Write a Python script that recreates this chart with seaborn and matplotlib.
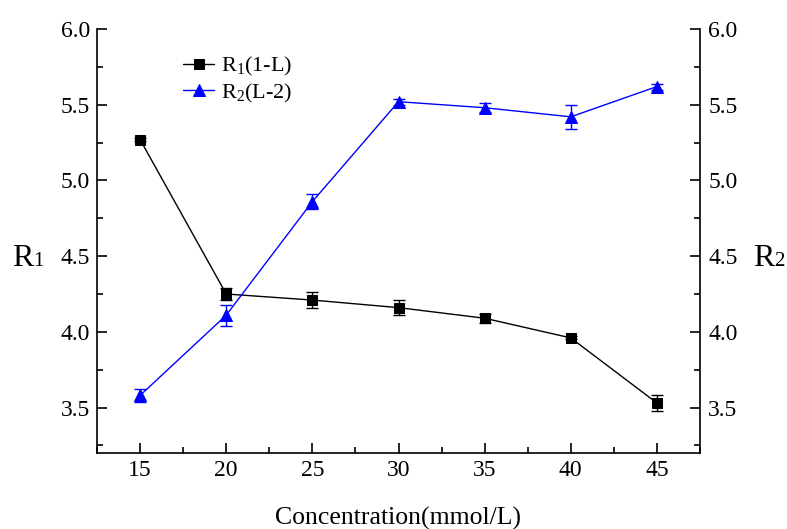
import matplotlib
matplotlib.use("Agg")
import matplotlib.pyplot as plt
import seaborn as sns
import pandas as pd
from matplotlib.ticker import MultipleLocator

conc = [15, 20, 25, 30, 35, 40, 45]
r1 = [5.27, 4.25, 4.21, 4.16, 4.09, 3.96, 3.53]
r1_err = [0.01, 0.04, 0.05, 0.05, 0.03, 0.01, 0.05]
r2 = [3.58, 4.11, 4.86, 5.52, 5.48, 5.42, 5.62]
r2_err = [0.04, 0.07, 0.05, 0.02, 0.03, 0.08, 0.02]
y_ticks = [3.5, 4.0, 4.5, 5.0, 5.5, 6.0]

sns.set_style("ticks")
plt.rcParams['font.family'] = ['Liberation Serif', 'DejaVu Serif']
plt.rcParams['mathtext.fontset'] = 'custom'
plt.rcParams['mathtext.rm'] = 'Liberation Serif'
for k in ["text.color", "axes.labelcolor", "xtick.color", "ytick.color", "axes.edgecolor"]:
    plt.rcParams[k] = "black"

df = pd.DataFrame({"conc": conc, "r1": r1, "r2": r2})

W, H = 787, 529
fig = plt.figure(figsize=(W / 100, H / 100), dpi=100)
ax = fig.add_axes([97 / W, 1 - 453 / H, (700 - 97) / W, (453 - 29) / H])
ax2 = ax.twinx()

sns.lineplot(data=df, x="conc", y="r1", ax=ax, color="black", lw=1,
             marker="s", markersize=7, markeredgecolor="black",
             label="R$_\\mathregular{1}$(1-L)", legend=False)
ax.errorbar(conc, r1, yerr=r1_err, fmt="none", ecolor="black", elinewidth=1, capsize=4, capthick=1)
sns.lineplot(data=df, x="conc", y="r2", ax=ax2, color="blue", lw=1,
             marker="^", markersize=8, markeredgecolor="blue",
             label="R$_\\mathregular{2}$(L-2)", legend=False)
ax2.errorbar(conc, r2, yerr=r2_err, fmt="none", ecolor="blue", elinewidth=1, capsize=4, capthick=1)

for a in (ax, ax2):
    a.set_xlim(12.5, 47.5)
    a.set_yticks(y_ticks)
    a.yaxis.set_minor_locator(MultipleLocator(0.25))
    a.set_ylim(3.2, 6.0)
    a.spines["top"].set_visible(False)
    for s in a.spines.values():
        s.set_linewidth(1.2)
    a.tick_params(which="both", direction="in", width=1.2, labelsize=17)
    a.tick_params(which="major", length=7)
    a.tick_params(which="minor", length=4)

ax.set_xticks(conc)
ax.xaxis.set_minor_locator(MultipleLocator(2.5))
ax.tick_params(axis="x", pad=5)
ax.tick_params(axis="y", right=False, pad=5)
ax2.tick_params(axis="y", left=False, pad=6)
ax.spines["right"].set_visible(False)
ax2.spines["left"].set_visible(False)
ax2.spines["bottom"].set_visible(False)

ax.set_xlabel("Concentration(mmol/L)", fontsize=18.5, labelpad=19)
ax.set_ylabel("")
ax2.set_ylabel("")

# y-axis labels: "R" with a small baseline digit, as in the reference
fig.text(12 / W, 1 - 266 / H, "R", fontsize=23, va="baseline", ha="left")
fig.text(33 / W, 1 - 266 / H, "1", fontsize=15, va="baseline", ha="left")
fig.text(753 / W, 1 - 266 / H, "R", fontsize=23, va="baseline", ha="left")
fig.text(774 / W, 1 - 266 / H, "2", fontsize=15, va="baseline", ha="left")

h1, lab1 = ax.get_legend_handles_labels()
h2, lab2 = ax2.get_legend_handles_labels()
ax.legend(h1 + h2, lab1 + lab2, loc="upper left", bbox_to_anchor=(0.11, 0.985),
          frameon=False, fontsize=16, handlelength=1.4, handletextpad=0.3, labelspacing=0.15)

fig.savefig("out.png", dpi=100)
